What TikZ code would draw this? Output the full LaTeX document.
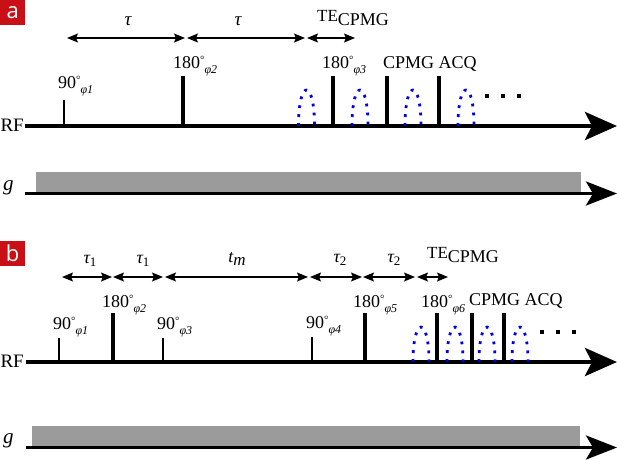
\documentclass[tikz,border=0pt]{standalone}
\usepackage{fontspec}
\setmainfont{Liberation Serif}
\newfontfamily\panelfont{Open Sans}
\usetikzlibrary{arrows.meta}
\definecolor{panelred}{RGB}{200,16,22}
\definecolor{gradgray}{RGB}{155,155,155}
\definecolor{echoblue}{RGB}{0,0,230}
\newcommand{\plab}[2]{#1\raisebox{5pt}{\fontsize{11}{11}\selectfont °}\raisebox{-5pt}{\fontsize{12}{12}\selectfont\itshape φ#2}}
\newcommand{\tecpmg}{\raisebox{4pt}{\fontsize{17}{17}\selectfont TE}CPMG}
\newcommand{\echoshape}[3]{\draw[echo] ({#1-8},#2) .. controls ({#1-8},{#2-#3*1.333}) and ({#1+8},{#2-#3*1.333}) .. ({#1+8},#2);}
\newcommand{\sqdot}[2]{\fill ({#1-1.7},{#2-1.7}) rectangle ++(3.4,3.4);}
\begin{document}
\begin{tikzpicture}[x=1pt,y=-1pt,
  txt/.style={inner sep=0pt, font=\fontsize{18}{18}\selectfont},
  panel/.style={fill=panelred, text=white, minimum width=25pt, minimum height=25pt, inner sep=0pt, anchor=north west, font=\panelfont\fontsize{22}{22}\selectfont},
  rfaxis/.style={line width=4.5pt, -{Stealth[length=32pt,width=28pt,inset=7pt]}},
  gaxis/.style={line width=3.5pt, -{Stealth[length=31pt,width=24pt,inset=7pt]}},
  p90/.style={line width=2.7pt},
  p180/.style={line width=3.8pt},
  dimarrow/.style={line width=1.2pt, {Stealth[length=11pt,width=9pt,inset=2pt]}-{Stealth[length=11pt,width=9pt,inset=2pt]}},
  echo/.style={echoblue, line width=2.8pt, dash pattern=on 2.8pt off 6.2pt},
]
\useasboundingbox (0,0) rectangle (617,459);

% ================= panel a =================
\node[panel] (labA) at (0,0) {a};

\coordinate (aA0) at (67,38);
\coordinate (aA1) at (185,38);
\coordinate (aA2) at (187,38);
\coordinate (aA3) at (305,38);
\coordinate (aA4) at (307,38);
\coordinate (aA5) at (355,38);
\draw[dimarrow] (aA0) -- (aA1);
\draw[dimarrow] (aA2) -- (aA3);
\draw[dimarrow] (aA4) -- (aA5);
\node[txt, anchor=base, font=\fontsize{19}{19}\selectfont] (aTau1) at (128,25) {\itshape τ};
\node[txt, anchor=base, font=\fontsize{19}{19}\selectfont] (aTau2) at (238,25) {\itshape τ};
\node[txt, anchor=base west] (aTE) at (317,25) {\tecpmg};

% RF axis
\coordinate (aRF0) at (25,126);
\coordinate (aRF1) at (617,126);
\draw[rfaxis] (aRF0) -- (aRF1);
\node[txt, anchor=base east, font=\fontsize{19}{19}\selectfont] (aRF) at (24,131) {RF};

% echoes
\echoshape{306.5}{126}{36}
\echoshape{360}{126}{36}
\echoshape{413}{126}{36}
\echoshape{466}{126}{36}

% pulses
\draw[p90] (64,126) -- (64,100);
\draw[p180] (183,126) -- (183,76);
\draw[p180] (333,126) -- (333,76);
\draw[p180] (387,126) -- (387,76);
\draw[p180] (439,126) -- (439,76);

\node[txt, anchor=base west] (aP1) at (58,88) {\plab{90}{1}};
\node[txt, anchor=base west] (aP2) at (173,68) {\plab{180}{2}};
\node[txt, anchor=base west] (aP3) at (322,68) {\plab{180}{3}};
\node[txt, anchor=base west] (aACQ) at (383,68) {CPMG ACQ};

\sqdot{487}{96}\sqdot{503}{96}\sqdot{519}{96}

% gradient a
\fill[gradgray] (36,172) rectangle (581,192);
\coordinate (aG0) at (25,193.5);
\coordinate (aG1) at (617,193.5);
\draw[gaxis] (aG0) -- (aG1);
\node[txt, anchor=base west, font=\fontsize{21}{21}\selectfont\itshape] (aG) at (3,190) {g};

% ================= panel b =================
\node[panel] (labB) at (0,241) {b};

\coordinate (bA0) at (62,277);
\coordinate (bA1) at (112,277);
\coordinate (bA2) at (113,277);
\coordinate (bA3) at (163,277);
\coordinate (bA4) at (165,277);
\coordinate (bA5) at (308,277);
\coordinate (bA6) at (310,277);
\coordinate (bA7) at (362,277);
\coordinate (bA8) at (363,277);
\coordinate (bA9) at (415,277);
\coordinate (bA10) at (417,277);
\coordinate (bA11) at (448,277);
\draw[dimarrow] (bA0) -- (bA1);
\draw[dimarrow] (bA2) -- (bA3);
\draw[dimarrow] (bA4) -- (bA5);
\draw[dimarrow] (bA6) -- (bA7);
\draw[dimarrow] (bA8) -- (bA9);
\draw[dimarrow] (bA10) -- (bA11);
\node[txt, anchor=base] (bT1) at (90,263) {\itshape τ\raisebox{-3pt}{\fontsize{13}{13}\selectfont\upshape 1}};
\node[txt, anchor=base] (bT2) at (143,263) {\itshape τ\raisebox{-3pt}{\fontsize{13}{13}\selectfont\upshape 1}};
\node[txt, anchor=base] (bTm) at (237,262) {\itshape t\raisebox{-3pt}{\fontsize{17}{17}\selectfont m}};
\node[txt, anchor=base] (bT3) at (340,262) {\itshape τ\raisebox{-3pt}{\fontsize{13}{13}\selectfont\upshape 2}};
\node[txt, anchor=base] (bT4) at (394,262) {\itshape τ\raisebox{-3pt}{\fontsize{13}{13}\selectfont\upshape 2}};
\node[txt, anchor=base west] (bTE) at (427,262) {\tecpmg};

\coordinate (bRF0) at (26,362);
\coordinate (bRF1) at (617,362);
\draw[rfaxis] (bRF0) -- (bRF1);
\node[txt, anchor=base east, font=\fontsize{19}{19}\selectfont] (bRF) at (24,367) {RF};

\echoshape{421}{362}{35}
\echoshape{455}{362}{35}
\echoshape{487}{362}{35}
\echoshape{520}{362}{35}

\draw[p90] (59,362) -- (59,338);
\draw[p180] (113,362) -- (113,313);
\draw[p90] (163,362) -- (163,338);
\draw[p90] (312,362) -- (312,337);
\draw[p180] (365,362) -- (365,313);
\draw[p180] (437,362) -- (437,313);
\draw[p180] (472,362) -- (472,313);
\draw[p180] (504,362) -- (504,313);

\node[txt, anchor=base west] (bP1) at (53,329) {\plab{90}{1}};
\node[txt, anchor=base west] (bP2) at (102,307) {\plab{180}{2}};
\node[txt, anchor=base west] (bP3) at (157,329) {\plab{90}{3}};
\node[txt, anchor=base west] (bP4) at (306,328) {\plab{90}{4}};
\node[txt, anchor=base west] (bP5) at (353,307) {\plab{180}{5}};
\node[txt, anchor=base west] (bP6) at (421,307) {\plab{180}{6}};
\node[txt, anchor=base west] (bACQ) at (469,305) {CPMG ACQ};

\sqdot{542}{332}\sqdot{558}{332}\sqdot{574}{332}

\fill[gradgray] (32,426) rectangle (580,446);
\coordinate (bG0) at (26,447.5);
\coordinate (bG1) at (617,447.5);
\draw[gaxis] (bG0) -- (bG1);
\node[txt, anchor=base west, font=\fontsize{21}{21}\selectfont\itshape] (bG) at (3,443) {g};
\end{tikzpicture}
\end{document}
